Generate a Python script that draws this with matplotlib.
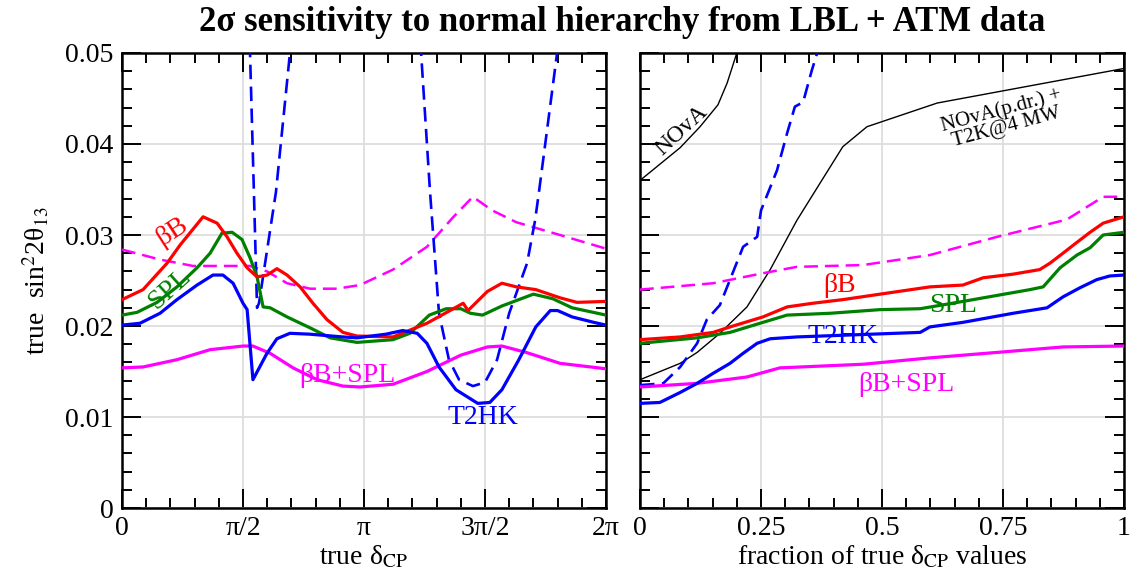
import numpy as np
import matplotlib
matplotlib.use("Agg")
import matplotlib.pyplot as plt
from matplotlib.ticker import MultipleLocator, FixedLocator

plt.rcParams['font.family'] = ['Liberation Serif', 'DejaVu Serif']
plt.rcParams['mathtext.fontset'] = 'stix'

# ---------------- left panel data (delta_CP in units of pi) ----------------
bb_x = [0, 0.087, 0.186, 0.240, 0.335, 0.393, 0.434, 0.475, 0.517, 0.558, 0.600, 0.640,
        0.682, 0.736, 0.789, 0.847, 0.913, 0.971, 1.12, 1.26, 1.41, 1.43, 1.51, 1.57,
        1.63, 1.71, 1.81, 1.88, 2.0]
bb_y = [0.0229, 0.0240, 0.0269, 0.0289, 0.0320, 0.0313, 0.0298, 0.0280, 0.0264, 0.0254,
        0.0256, 0.0263, 0.0256, 0.0243, 0.0225, 0.0207, 0.0193, 0.0189, 0.0188, 0.0203,
        0.0225, 0.0217, 0.0238, 0.0247, 0.0243, 0.0240, 0.0231, 0.0226, 0.0227]

spl_x = [0, 0.062, 0.145, 0.227, 0.310, 0.364, 0.413, 0.455, 0.496, 0.529, 0.558, 0.583,
         0.612, 0.682, 0.777, 0.860, 0.971, 1.12, 1.19, 1.27, 1.34, 1.40, 1.44, 1.49,
         1.57, 1.70, 1.78, 1.86, 2.0]
spl_y = [0.0212, 0.0215, 0.0226, 0.0243, 0.0264, 0.0280, 0.0302, 0.0303, 0.0295, 0.0275,
         0.0254, 0.0221, 0.0220, 0.0210, 0.0198, 0.0187, 0.0182, 0.0185, 0.0192, 0.0212,
         0.0219, 0.0219, 0.0214, 0.0212, 0.0222, 0.0235, 0.0230, 0.0220, 0.0212]

t2hk_x = [0, 0.074, 0.157, 0.227, 0.310, 0.376, 0.417, 0.459, 0.500, 0.517, 0.541, 0.599,
          0.640, 0.694, 0.777, 0.913, 0.971, 1.09, 1.16, 1.22, 1.26, 1.31, 1.38, 1.47,
          1.52, 1.57, 1.64, 1.71, 1.77, 1.80, 1.86, 1.95, 2.0]
t2hk_y = [0.0201, 0.0203, 0.0214, 0.0229, 0.0245, 0.0256, 0.0256, 0.0247, 0.0225, 0.0218,
          0.0141, 0.0170, 0.0186, 0.0192, 0.0191, 0.0188, 0.0187, 0.0191, 0.0195, 0.0192,
          0.0181, 0.0155, 0.0130, 0.0115, 0.0116, 0.0130, 0.0163, 0.0199, 0.0217, 0.0217,
          0.0210, 0.0204, 0.0201]

bbspl_x = [0, 0.087, 0.227, 0.364, 0.500, 0.541, 0.612, 0.707, 0.806, 0.913, 0.983, 1.12,
           1.26, 1.40, 1.51, 1.57, 1.67, 1.81, 2.0]
bbspl_y = [0.0154, 0.0155, 0.0163, 0.0174, 0.0178, 0.0178, 0.0170, 0.0154, 0.0141, 0.0134,
           0.0133, 0.0136, 0.0150, 0.0168, 0.0177, 0.0178, 0.0171, 0.0159, 0.0153]

atm_x = [0, 0.157, 0.293, 0.434, 0.529, 0.599, 0.682, 0.777, 0.888, 0.983, 1.12, 1.26,
         1.37, 1.45, 1.53, 1.63, 1.81, 2.0]
atm_y = [0.0284, 0.0273, 0.0266, 0.0266, 0.0266, 0.0260, 0.0247, 0.0241, 0.0241, 0.0245,
         0.0262, 0.0287, 0.0320, 0.0342, 0.0327, 0.0314, 0.0300, 0.0285]

lbl_x = [0.522, 0.529, 0.545, 0.558, 0.566, 0.636, 0.694, 0.705,
         1.225, 1.236, 1.273, 1.310, 1.351, 1.393, 1.45, 1.50, 1.55, 1.60, 1.674, 1.707,
         1.723, 1.798, 1.815]
lbl_y = [0.0560, 0.0500, 0.0347, 0.0220, 0.0225, 0.0347, 0.0500, 0.0530,
         0.0540, 0.0500, 0.0347, 0.0214, 0.0163, 0.0141, 0.0134, 0.0138, 0.0163, 0.0214,
         0.0269, 0.0316, 0.0347, 0.0500, 0.0540]

# ---------------- right panel data (fraction of delta_CP values) ----------------
f_bb = [0, 0.083, 0.151, 0.186, 0.254, 0.304, 0.357, 0.419, 0.496, 0.599, 0.667, 0.709,
        0.771, 0.826, 0.847, 0.874, 0.903, 0.930, 0.957, 1.0]
r_bb = [0.0185, 0.0188, 0.0193, 0.0199, 0.0210, 0.0221, 0.0225, 0.0229, 0.0235, 0.0243,
        0.0245, 0.0253, 0.0257, 0.0262, 0.0269, 0.0280, 0.0292, 0.0303, 0.0313, 0.0320]

f_spl = [0, 0.118, 0.186, 0.254, 0.304, 0.393, 0.496, 0.579, 0.667, 0.806, 0.833, 0.868,
         0.903, 0.930, 0.957, 1.0]
r_spl = [0.0181, 0.0187, 0.0193, 0.0204, 0.0212, 0.0214, 0.0218, 0.0219, 0.0227, 0.0240,
         0.0243, 0.0264, 0.0278, 0.0286, 0.0300, 0.0303]

f_t2hk = [0, 0.041, 0.083, 0.118, 0.151, 0.186, 0.213, 0.242, 0.269, 0.324, 0.427, 0.579,
          0.599, 0.667, 0.771, 0.841, 0.874, 0.909, 0.944, 0.971, 1.0]
r_t2hk = [0.0115, 0.0116, 0.0127, 0.0137, 0.0148, 0.0159, 0.0170, 0.0181, 0.0186, 0.0188,
          0.0190, 0.0193, 0.0199, 0.0204, 0.0214, 0.0220, 0.0232, 0.0242, 0.0251, 0.0255,
          0.0256]

f_bbspl = [0, 0.118, 0.221, 0.289, 0.461, 0.599, 0.738, 0.874, 1.0]
r_bbspl = [0.0133, 0.0137, 0.0144, 0.0154, 0.0158, 0.0165, 0.0171, 0.0177, 0.0178]

f_atm = [0, 0.151, 0.254, 0.324, 0.461, 0.599, 0.738, 0.882, 0.957, 1.0]
r_atm = [0.0240, 0.0247, 0.0258, 0.0265, 0.0267, 0.0278, 0.0298, 0.0317, 0.0342, 0.0342]

f_lbl = [0, 0.048, 0.083, 0.118, 0.138, 0.165, 0.186, 0.213, 0.242, 0.250, 0.283, 0.304,
         0.320, 0.337, 0.355, 0.366]
r_lbl = [0.0135, 0.0137, 0.0155, 0.0181, 0.0207, 0.0223, 0.0251, 0.0287, 0.0298, 0.0327,
         0.0371, 0.0412, 0.0441, 0.0446, 0.0481, 0.0500]

f_nova = [0, 0.083, 0.124, 0.161, 0.180, 0.200]
r_nova = [0.0360, 0.0396, 0.0419, 0.0443, 0.0467, 0.0500]

f_comb = [0, 0.083, 0.118, 0.165, 0.221, 0.269, 0.324, 0.372, 0.419, 0.469, 0.614, 1.0]
r_comb = [0.0141, 0.0159, 0.0171, 0.0192, 0.0221, 0.0262, 0.0316, 0.0357, 0.0397, 0.0419,
          0.0445, 0.0483]

x_tick_labels = ['0', 'π/2', 'π', '3π/2', '2π']
y_tick_labels = ['0', '0.01', '0.02', '0.03', '0.04', '0.05']
f_tick_labels = ['0', '0.25', '0.5', '0.75', '1']

RED = '#ff0000'
GREEN = '#008000'
BLUE = '#0000ff'
MAG = '#ff00ff'
DASH = (0, (5.5, 2.8))

fig = plt.figure(figsize=(11.32, 5.81), dpi=100)
axL = fig.add_axes([0.1078, 0.1256, 0.4275, 0.7832])
axR = fig.add_axes([0.5654, 0.1256, 0.4275, 0.7832])


def style(ax):
    ax.set_ylim(0, 0.05)
    ax.yaxis.set_major_locator(FixedLocator([0, 0.01, 0.02, 0.03, 0.04, 0.05]))
    ax.yaxis.set_minor_locator(MultipleLocator(0.002))
    ax.grid(True, which='major', color='#dddddd', lw=1.3, zorder=0)
    ax.tick_params(which='both', direction='in', top=True, right=True, width=1.4,
                   labelsize=20, pad=6, colors='black')
    ax.tick_params(which='major', length=14)
    ax.tick_params(which='minor', length=7)
    for s in ax.spines.values():
        s.set_linewidth(1.8)
    ax.set_axisbelow(True)


style(axL)
style(axR)

# left panel
pi = np.pi
axL.set_xlim(0, 2 * pi)
axL.xaxis.set_major_locator(FixedLocator([0, pi / 2, pi, 3 * pi / 2, 2 * pi]))
axL.xaxis.set_minor_locator(MultipleLocator(pi / 10))
axL.set_xticklabels(x_tick_labels)
axL.set_yticklabels(y_tick_labels)

axL.plot(np.array(atm_x) * pi, atm_y, color=MAG, lw=1.8, ls=DASH, zorder=3)
axL.plot(np.array(lbl_x) * pi, lbl_y, color=BLUE, lw=1.9, ls=DASH, zorder=3)
axL.plot(np.array(bbspl_x) * pi, bbspl_y, color=MAG, lw=2.3, zorder=4)
axL.plot(np.array(spl_x) * pi, spl_y, color=GREEN, lw=2.3, zorder=4)
axL.plot(np.array(bb_x) * pi, bb_y, color=RED, lw=2.3, zorder=4)
axL.plot(np.array(t2hk_x) * pi, t2hk_y, color=BLUE, lw=2.3, zorder=5)

axL.text(0.207 * pi, 0.0304, 'βB', color=RED, fontsize=20, rotation=33, ha='center', va='center')
axL.text(0.198 * pi, 0.0241, 'SPL', color=GREEN, fontsize=20, rotation=42, ha='center', va='center')
axL.text(0.93 * pi, 0.0146, 'βB+SPL', color=MAG, fontsize=20, ha='center', va='center')
axL.text(1.49 * pi, 0.0099, 'T2HK', color=BLUE, fontsize=20, ha='center', va='center')

axL.set_xlabel('true δ$_{\\rm CP}$', fontsize=20, labelpad=2)
axL.set_ylabel('true  sin$^2$2θ$_{13}$', fontsize=20, labelpad=10)

# right panel
axR.set_xlim(0, 1)
axR.xaxis.set_major_locator(FixedLocator([0, 0.25, 0.5, 0.75, 1]))
axR.xaxis.set_minor_locator(MultipleLocator(0.05))
axR.set_xticklabels(f_tick_labels)
axR.tick_params(axis='y', labelleft=False)

axR.plot(f_nova, r_nova, color='black', lw=1.0, zorder=3)
axR.plot(f_comb, r_comb, color='black', lw=1.0, zorder=3)
axR.plot(f_atm, r_atm, color=MAG, lw=1.8, ls=DASH, zorder=3)
axR.plot(f_lbl, r_lbl, color=BLUE, lw=1.9, ls=DASH, zorder=3)
axR.plot(f_bbspl, r_bbspl, color=MAG, lw=2.3, zorder=4)
axR.plot(f_spl, r_spl, color=GREEN, lw=2.3, zorder=4)
axR.plot(f_bb, r_bb, color=RED, lw=2.3, zorder=4)
axR.plot(f_t2hk, r_t2hk, color=BLUE, lw=2.3, zorder=5)

axR.text(0.413, 0.0244, 'βB', color=RED, fontsize=20, ha='center', va='center')
axR.text(0.646, 0.0223, 'SPL', color=GREEN, fontsize=20, ha='center', va='center')
axR.text(0.419, 0.0188, 'T2HK', color=BLUE, fontsize=20, ha='center', va='center')
axR.text(0.55, 0.0136, 'βB+SPL', color=MAG, fontsize=20, ha='center', va='center')
axR.text(0.087, 0.0415, 'NOvA', color='black', fontsize=17, rotation=43, ha='center', va='center')
axR.text(0.752, 0.0428, 'NOvA(p.dr.) +\nT2K@4 MW', color='black', fontsize=15, rotation=15,
         ha='center', va='center', linespacing=0.9)

axR.set_xlabel('fraction of true δ$_{\\rm CP}$ values', fontsize=20, labelpad=2)

fig.text(0.55, 0.962, '2σ sensitivity to normal hierarchy from LBL + ATM data',
         fontsize=25, fontweight='bold', ha='center', va='center')

fig.savefig('out.png', dpi=100)
